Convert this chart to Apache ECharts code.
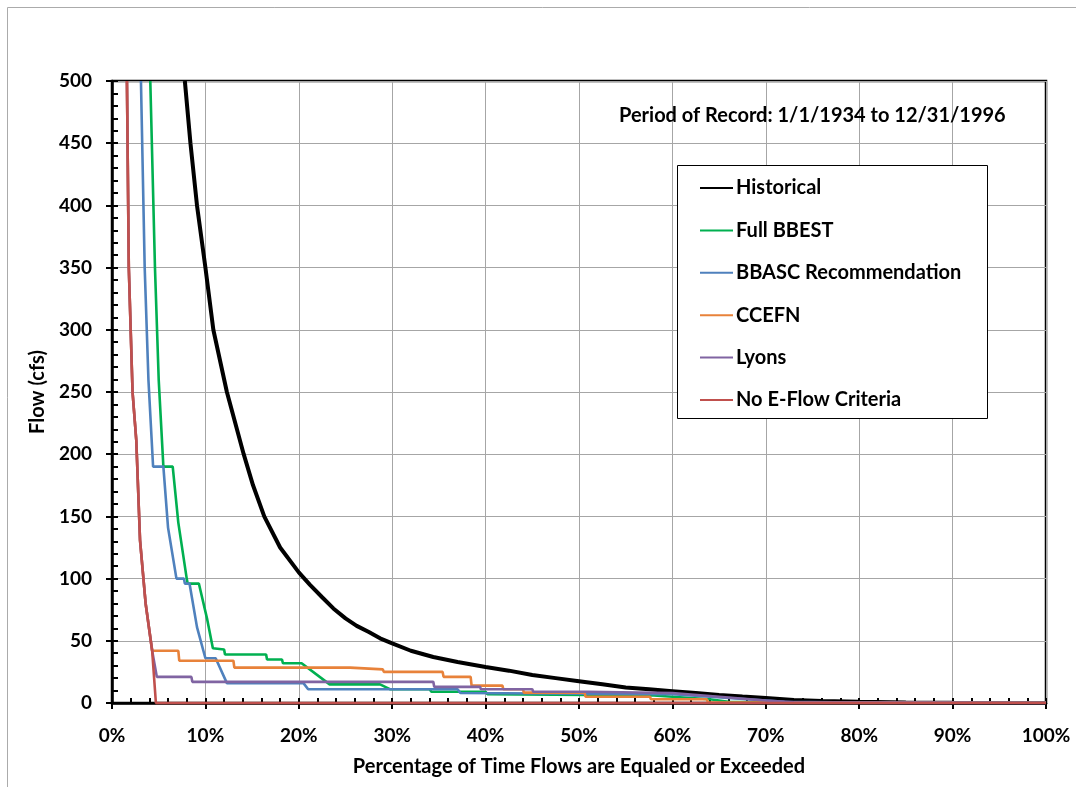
<!DOCTYPE html>
<html><head><meta charset="utf-8">
<script src="https://cdn.jsdelivr.net/npm/echarts@6/dist/echarts.min.js"></script>
<style>html,body{margin:0;padding:0;background:#fff}#c{width:1076px;height:787px}</style>
</head><body><div id="c"></div>
<script>
const seriesNames = ['Historical','Full BBEST','BBASC Recommendation','CCEFN','Lyons','No E-Flow Criteria'];
const seriesColors = ['#000000','#00B050','#4F81BD','#E8823A','#8064A2','#C0504D'];
const xTicks = [0,10,20,30,40,50,60,70,80,90,100];
const yTicks = [0,50,100,150,200,250,300,350,400,450,500];

const historical = [[7.8,500],[8.4,450],[9.1,400],[10.0,350],[10.85,300],[12.3,250],[14.1,200],[15.1,175],[16.3,150],[18.0,125],[20,105],[21.2,95],[22.5,85],[23.7,76],[25,68],[26.2,62],[27.5,57],[28.7,52],[30,48],[32,42],[34.4,37],[37,33],[40,29],[42.5,26],[45,22.5],[47.5,20],[50,17.5],[52.5,15],[55,12.5],[57.5,11],[60,9.5],[62.5,8],[65,6.5],[67.5,5.2],[70,4],[73,2.5],[76,1.6],[80,1],[85,0.5],[90,0.3],[100,0.1]];
const fullBBEST = [[4.1,500],[4.6,350],[5.0,260],[5.5,190],[6.5,190],[7.1,145],[8.0,100],[8.1,96],[9.3,96],[10.2,67],[10.8,44],[12.0,43],[12.1,39],[16.5,39],[16.6,35],[18.2,35],[18.3,32],[20.3,32],[23.3,15],[28.7,15],[29.8,11],[34.0,11],[34.2,9],[40.0,9],[40.2,7],[58,6],[60,5],[64,3],[66,1],[70,0.5],[100,0.2]];
const bbasc = [[3.1,500],[3.5,350],[3.9,260],[4.4,190],[5.5,190],[6.0,141],[6.9,100],[7.7,100],[7.8,96],[8.3,96],[9.1,61],[10.0,36],[11.1,36],[12.3,16],[20.5,16],[21.0,11],[37.0,11],[37.3,8],[60,7],[64,5],[68,3],[72,1],[80,0.3],[100,0.1]];
const ccefn = [[1.6,500],[1.8,350],[2.2,250],[2.6,211],[3.0,131],[3.6,80],[4.3,42],[7.1,42],[7.2,34],[13.0,34],[13.1,28.4],[25.5,28.4],[25.6,27],[29.0,27],[29.1,25],[35.4,25],[35.5,21],[38.4,21],[38.5,14],[41.8,14],[41.9,11],[44.0,11],[44.1,8.3],[50.6,8.3],[50.7,5],[57.6,5],[57.7,3],[63.7,3],[63.8,0.5],[100,0.2]];
const lyons = [[1.6,500],[1.8,350],[2.2,250],[2.6,211],[3.0,131],[3.6,80],[4.3,42],[4.8,21],[8.5,21],[8.6,17],[34.4,17],[34.5,13],[39.4,13],[39.5,11],[45.0,11],[45.1,9],[51.0,9],[51.1,8],[60,8],[65,5],[70,2],[73,0.5],[100,0.2]];
const noEFlow = [[1.6,500],[1.8,350],[2.2,250],[2.6,211],[3.0,131],[3.6,80],[4.3,42],[4.7,0],[100,0]];
const seriesData = [historical, fullBBEST, bbasc, ccefn, lyons, noEFlow];

const FONT = 'Lato';
const chart = echarts.init(document.getElementById('c'));
const G = {left:112, top:81, right:30, bottom:84};

const option = {
  backgroundColor:'#fff',
  animation:false,
  grid:{left:G.left, top:G.top, right:G.right, bottom:G.bottom, show:true, borderColor:'#000', borderWidth:2.5, containLabel:false},
  graphic:[
    {type:'rect', shape:{x:7.5,y:7.5,width:1090,height:800}, style:{fill:null, stroke:'#ABABAB', lineWidth:1}, silent:true, z:-10},
    {type:'rect', shape:{x:677.5,y:165.5,width:310,height:253}, style:{fill:'#fff', stroke:'#000', lineWidth:1}, z:50},
    {type:'text', x:619, y:116, style:{text:'Period of Record: 1/1/1934 to 12/31/1996', font:'bold 20px '+FONT, fill:'#000', verticalAlign:'middle'}, z:60}
  ],
  legend:{
    orient:'vertical', left:700, top:178, padding:0, itemWidth:33, itemHeight:10, itemGap:22.4,
    icon:'path://M0,4 L33,4 L33,6 L0,6 Z',
    textStyle:{fontFamily:FONT, fontWeight:'bold', fontSize:20, lineHeight:20, color:'#000', padding:[0,0,0,-2]},
    data:seriesNames.map((n,i)=>({name:n, itemStyle:{color:seriesColors[i]}})),
    z:60
  },
  xAxis:[
    {type:'value', min:0, max:100, interval:10, position:'bottom',
     axisLine:{show:true, onZero:false, lineStyle:{color:'#000', width:2.5}},
     axisTick:{show:true, inside:true, length:5, lineStyle:{color:'#000', width:2}},
     minorTick:{show:true, splitNumber:5, length:5, lineStyle:{color:'#000', width:2}},
     splitLine:{show:true, lineStyle:{color:'#A6A6A6', width:1}},
     axisLabel:{formatter:'{value}%', fontFamily:FONT, fontWeight:'bold', fontSize:19, color:'#000', margin:23},
     name:'Percentage of Time Flows are Equaled or Exceeded', nameLocation:'middle', nameGap:54,
     nameTextStyle:{fontFamily:FONT, fontWeight:'bold', fontSize:20, color:'#000'}},
    {type:'value', min:0, max:100, interval:10, position:'bottom',
     axisLine:{show:false}, axisTick:{show:true, inside:false, length:6, lineStyle:{color:'#000', width:2}},
     splitLine:{show:false}, axisLabel:{show:false}}
  ],
  yAxis:[
    {type:'value', min:0, max:500, interval:50, position:'left',
     axisLine:{show:true, onZero:false, lineStyle:{color:'#000', width:2.5}},
     axisTick:{show:true, inside:true, length:6, lineStyle:{color:'#000', width:2}},
     minorTick:{show:true, splitNumber:5, length:6, lineStyle:{color:'#000', width:2}},
     splitLine:{show:true, lineStyle:{color:'#A6A6A6', width:1}},
     axisLabel:{fontFamily:FONT, fontWeight:'bold', fontSize:19, color:'#000', margin:20},
     name:'Flow (cfs)', nameLocation:'middle', nameGap:60, nameRotate:90,
     nameTextStyle:{fontFamily:FONT, fontWeight:'bold', fontSize:20, color:'#000'}},
    {type:'value', min:0, max:500, interval:50, position:'left',
     axisLine:{show:false}, axisTick:{show:true, inside:false, length:6, lineStyle:{color:'#000', width:2}},
     splitLine:{show:false}, axisLabel:{show:false}}
  ],
  series: seriesNames.map((n,i)=>({
    name:n, type:'line', xAxisIndex:0, yAxisIndex:0, data:seriesData[i], showSymbol:false, symbol:'none',
    clip:false, z:10+i,
    lineStyle:{color:seriesColors[i], width: i===0 ? 4 : 2.6},
    itemStyle:{color:seriesColors[i]}
  }))
};
chart.setOption(option);
</script></body></html>
